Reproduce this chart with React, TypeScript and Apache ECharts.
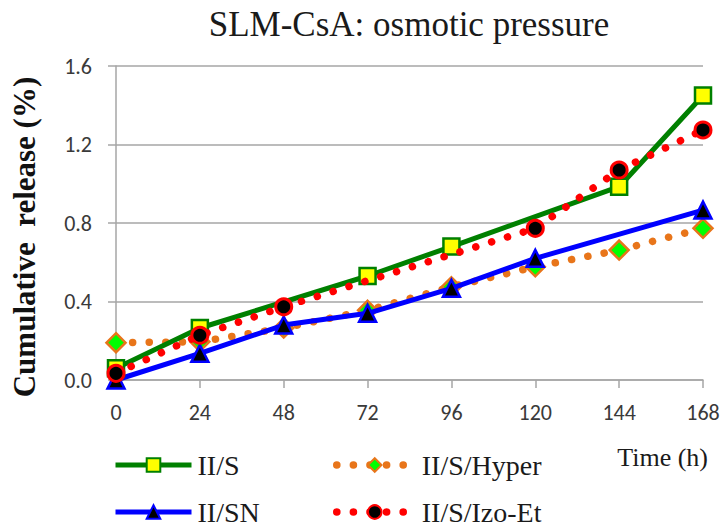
import React, { useEffect, useRef } from "react";
import * as echarts from "echarts";

const titleText = "SLM-CsA: osmotic pressure";
const xAxisName = "Time (h)";
const yAxisName = "Cumulative  release (%)";

const seriesNames = ["II/S", "II/S/Hyper", "II/SN", "II/S/Izo-Et"];

const sHours = [0, 24, 72, 96, 144, 168];
const sValues = [0.06, 0.265, 0.53, 0.68, 0.985, 1.45];

const hyperHours = [0, 24, 48, 72, 96, 120, 144, 168];
const hyperValues = [0.19, 0.195, 0.265, 0.355, 0.475, 0.577, 0.662, 0.773];

const snHours = [0, 24, 48, 72, 96, 120, 168];
const snValues = [0.0, 0.136, 0.28, 0.34, 0.467, 0.62, 0.866];

const izoHours = [0, 24, 48, 120, 144, 168];
const izoValues = [0.034, 0.228, 0.373, 0.773, 1.07, 1.274];

const xTicks = [0, 24, 48, 72, 96, 120, 144, 168];
const yTicks = [0, 0.4, 0.8, 1.2, 1.6];

const pairs = (xs: number[], ys: number[]) => xs.map((x, i) => [x, ys[i]]);

const SERIF = "'Liberation Serif', 'Times New Roman', serif";
const SANS = "Carlito, 'Liberation Sans', Arial, sans-serif";

export default function App() {
  const ref = useRef<HTMLDivElement>(null);
  useEffect(() => {
    if (!ref.current) return;
    const chart = echarts.init(ref.current, undefined, { renderer: "svg" });
    const dotted = [0.1, 16.5];
    const legendCommon = {
      orient: "vertical",
      top: 451,
      padding: 0,
      itemWidth: 76,
      itemHeight: 17,
      itemGap: 19,
      lineStyle: { width: "inherit", type: "inherit", cap: "inherit" },
    };
    chart.setOption({
      animation: false,
      backgroundColor: "#ffffff",
      title: {
        text: titleText,
        left: 404,
        top: 2,
        textAlign: "center",
        textStyle: { fontFamily: SERIF, fontSize: 35, fontWeight: "normal", color: "#1a1a1a" },
      },
      grid: { left: 116, right: 22, top: 66, bottom: 148, containLabel: false },
      xAxis: {
        type: "value",
        min: xTicks[0],
        max: xTicks[xTicks.length - 1],
        interval: 24,
        name: xAxisName,
        nameLocation: "end",
        nameGap: 5,
        nameTextStyle: {
          fontFamily: SERIF,
          fontSize: 26,
          color: "#1a1a1a",
          align: "right",
          verticalAlign: "top",
          padding: [64, 0, 0, 0],
        },
        axisLine: { show: true, lineStyle: { color: "#a6a6a6", width: 1.5 } },
        axisTick: { show: true, length: 8, lineStyle: { color: "#a6a6a6", width: 1.5 } },
        axisLabel: { fontFamily: SANS, fontSize: 22, color: "#3a3a3a", margin: 21 },
        splitLine: { show: false },
      },
      yAxis: {
        type: "value",
        min: yTicks[0],
        max: yTicks[yTicks.length - 1],
        interval: 0.4,
        name: yAxisName,
        nameLocation: "middle",
        nameGap: 76,
        nameTextStyle: { fontFamily: SERIF, fontSize: 31, fontWeight: "bold", color: "#111", padding: [0, 28, 0, 0] },
        axisLine: { show: true, lineStyle: { color: "#a6a6a6", width: 1.5 } },
        axisTick: { show: true, length: 8, lineStyle: { color: "#a6a6a6", width: 1.5 } },
        axisLabel: {
          fontFamily: SANS,
          fontSize: 22,
          color: "#3a3a3a",
          margin: 24,
          formatter: (v: number) => v.toFixed(1),
        },
        splitLine: { show: true, lineStyle: { color: "#a6a6a6", width: 1.5 } },
      },
      legend: [
        {
          ...legendCommon,
          data: [seriesNames[0], seriesNames[2]],
          left: 113,
          textStyle: { fontFamily: SERIF, fontSize: 28, color: "#1a1a1a", padding: [0, 0, 0, 1] },
        },
        {
          ...legendCommon,
          data: [seriesNames[1], seriesNames[3]],
          left: 333,
          textStyle: { fontFamily: SERIF, fontSize: 28, color: "#1a1a1a", padding: [0, 0, 0, 4] },
        },
      ],
      series: [
        {
          name: seriesNames[1],
          type: "line",
          data: pairs(hyperHours, hyperValues),
          clip: false,
          symbol: "diamond",
          symbolSize: 19,
          lineStyle: { color: "#e8751a", width: 7.5, type: dotted, cap: "round" },
          itemStyle: { color: "#00ff00", borderColor: "#e8751a", borderWidth: 2.5 },
          z: 2,
        },
        {
          name: seriesNames[2],
          type: "line",
          data: pairs(snHours, snValues),
          clip: false,
          symbol: "triangle",
          symbolSize: 17,
          lineStyle: { color: "#0000ff", width: 5 },
          itemStyle: { color: "#000000", borderColor: "#0000ff", borderWidth: 2.5 },
          z: 3,
        },
        {
          name: seriesNames[0],
          type: "line",
          data: pairs(sHours, sValues),
          clip: false,
          symbol: "rect",
          symbolSize: 16,
          lineStyle: { color: "#008000", width: 5 },
          itemStyle: { color: "#ffff00", borderColor: "#008000", borderWidth: 2.5 },
          z: 4,
        },
        {
          name: seriesNames[3],
          type: "line",
          data: pairs(izoHours, izoValues),
          clip: false,
          symbol: "circle",
          symbolSize: 16,
          lineStyle: { color: "#ff0000", width: 7.5, type: dotted, cap: "round" },
          itemStyle: { color: "#000000", borderColor: "#ff0000", borderWidth: 3 },
          z: 5,
        },
      ],
    });
    return () => chart.dispose();
  }, []);
  return <div ref={ref} style={{ width: 725, height: 528, position: "absolute", left: 0, top: 0 }} />;
}
